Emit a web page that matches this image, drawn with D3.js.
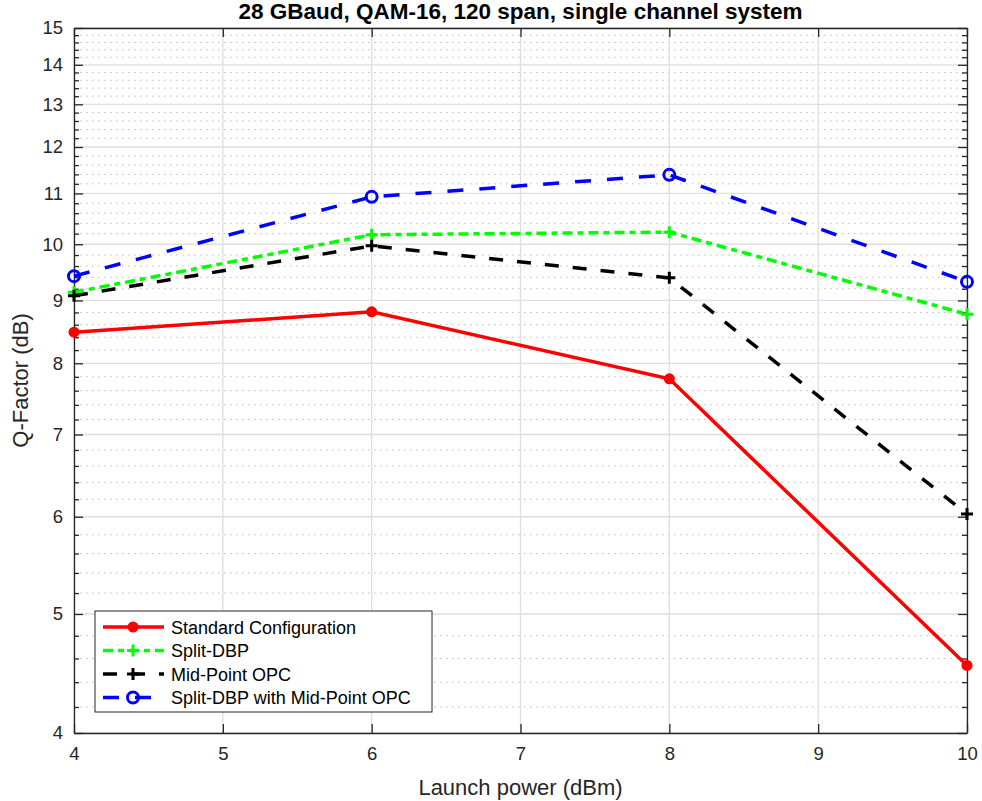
<!DOCTYPE html>
<html>
<head>
<meta charset="utf-8">
<script src="https://cdn.jsdelivr.net/npm/d3@7"></script>
<style>
  body { margin: 0; background: #fff; }
  svg { font-family: "Liberation Sans", Arial, Helvetica, sans-serif; }
</style>
</head>
<body>
<div id="chart"></div>
<script>
// data
const launchPower = [4, 6, 8, 10];
const standardCfg = [8.48, 8.81, 7.77, 4.54];
const splitDBP = [9.14, 10.18, 10.23, 8.77];
const midPointOPC = [9.08, 9.97, 9.39, 6.03];
const splitDBPwithOPC = [9.42, 10.93, 11.39, 9.32];
const xTicks = [4, 5, 6, 7, 8, 9, 10];
const yTicks = [4, 5, 6, 7, 8, 9, 10, 11, 12, 13, 14, 15];

const series = [
  { name: "Standard Configuration", values: standardCfg, color: "#ff0000", dash: null, marker: "dot" },
  { name: "Split-DBP", values: splitDBP, color: "#00ff00", dash: "10,5,6,5", marker: "plus" },
  { name: "Mid-Point OPC", values: midPointOPC, color: "#000000", dash: "14,14", marker: "plus" },
  { name: "Split-DBP with Mid-Point OPC", values: splitDBPwithOPC, color: "#0000ff", dash: "16,16", marker: "circle" }
];

const W = 982, H = 801;
const margin = { top: 28, right: 15, bottom: 68, left: 74 };
const width = W - margin.left - margin.right,
      height = H - margin.top - margin.bottom;

const svg = d3.select("#chart").append("svg")
  .attr("width", W)
  .attr("height", H);

const g = svg.append("g")
  .attr("transform", `translate(${margin.left},${margin.top})`);

const x = d3.scaleLinear().domain([4, 10]).range([0, width]);
const y = d3.scaleLog().domain([4, 15]).range([height, 0]);

// minor values every 0.2 on the log axis
const yMinor = d3.range(40, 151, 2).map(v => v / 10).filter(v => !yTicks.includes(v));

// minor grid
g.selectAll("line.minor")
  .data(yMinor)
  .enter().append("line")
  .attr("class", "minor")
  .attr("x1", 0).attr("x2", width)
  .attr("y1", d => y(d)).attr("y2", d => y(d))
  .attr("stroke", "#bcbcbc")
  .attr("stroke-width", 1)
  .attr("stroke-dasharray", "1.5,4.5");

// major grid
g.selectAll("line.hgrid")
  .data(yTicks)
  .enter().append("line")
  .attr("x1", 0).attr("x2", width)
  .attr("y1", d => y(d)).attr("y2", d => y(d))
  .attr("stroke", "#dedede").attr("stroke-width", 1.3);

g.selectAll("line.vgrid")
  .data(xTicks)
  .enter().append("line")
  .attr("x1", d => x(d)).attr("x2", d => x(d))
  .attr("y1", 0).attr("y2", height)
  .attr("stroke", "#dedede").attr("stroke-width", 1.3);

// axes with inward ticks
const axisColor = "#262626";
function styleAxis(sel) {
  sel.select(".domain").attr("stroke", axisColor).attr("stroke-width", 1.3);
  sel.selectAll(".tick line").attr("stroke", axisColor).attr("stroke-width", 1.3);
  sel.selectAll(".tick text").attr("fill", axisColor).attr("font-size", 18.5);
}

g.append("g")
  .attr("transform", `translate(0,${height})`)
  .call(d3.axisBottom(x).tickValues(xTicks).tickFormat(d3.format("d")).tickSizeInner(-9).tickSizeOuter(0).tickPadding(14))
  .call(styleAxis);

g.append("g")
  .call(d3.axisTop(x).tickValues(xTicks).tickFormat("").tickSizeInner(-9).tickSizeOuter(0))
  .call(styleAxis);

g.append("g")
  .call(d3.axisLeft(y).tickValues(yTicks).tickFormat(d3.format("d")).tickSizeInner(-9).tickSizeOuter(0).tickPadding(11))
  .call(styleAxis);

g.append("g")
  .attr("transform", `translate(${width},0)`)
  .call(d3.axisRight(y).tickValues(yTicks).tickFormat("").tickSizeInner(-9).tickSizeOuter(0))
  .call(styleAxis);

// minor ticks on left and right
g.append("g")
  .call(d3.axisLeft(y).tickValues(yMinor).tickFormat("").tickSizeInner(-5).tickSizeOuter(0))
  .call(styleAxis)
  .select(".domain").remove();
g.append("g")
  .attr("transform", `translate(${width},0)`)
  .call(d3.axisRight(y).tickValues(yMinor).tickFormat("").tickSizeInner(-5).tickSizeOuter(0))
  .call(styleAxis)
  .select(".domain").remove();

// lines
const line = d3.line()
  .x((d, i) => x(launchPower[i]))
  .y(d => y(d));

function drawMarker(sel, s, cx, cy) {
  if (s.marker === "dot") {
    sel.append("circle").attr("cx", cx).attr("cy", cy).attr("r", 5.5).attr("fill", s.color);
  } else if (s.marker === "circle") {
    sel.append("circle").attr("cx", cx).attr("cy", cy).attr("r", 5.5)
      .attr("fill", "none").attr("stroke", s.color).attr("stroke-width", 3);
  } else {
    sel.append("path")
      .attr("d", `M${cx - 6},${cy}H${cx + 6}M${cx},${cy - 6}V${cy + 6}`)
      .attr("stroke", s.color).attr("stroke-width", 3);
  }
}

series.forEach(s => {
  g.append("path")
    .datum(s.values)
    .attr("fill", "none")
    .attr("stroke", s.color)
    .attr("stroke-width", 3.5)
    .attr("stroke-dasharray", s.dash)
    .attr("d", line);
  const mg = g.append("g");
  s.values.forEach((v, i) => drawMarker(mg, s, x(launchPower[i]), y(v)));
});

// legend
const legend = g.append("g").attr("transform", `translate(${95 - margin.left},${611 - margin.top})`);
legend.append("rect")
  .attr("width", 337).attr("height", 101)
  .attr("fill", "#fff").attr("stroke", axisColor).attr("stroke-width", 1);
series.forEach((s, i) => {
  const ly = 16 + i * 23.5;
  legend.append("line")
    .attr("x1", 8).attr("x2", 69).attr("y1", ly).attr("y2", ly)
    .attr("stroke", s.color).attr("stroke-width", 3.5)
    .attr("stroke-dasharray", s.dash);
  drawMarker(legend, s, 38, ly);
  legend.append("text")
    .attr("x", 76).attr("y", ly + 6.5)
    .attr("font-size", 18).attr("fill", "#000")
    .text(s.name);
});

// title and labels
svg.append("text")
  .attr("x", margin.left + width / 2).attr("y", 19)
  .attr("text-anchor", "middle")
  .attr("font-size", 22.5).attr("font-weight", "bold")
  .text("28 GBaud, QAM-16, 120 span, single channel system");

svg.append("text")
  .attr("x", margin.left + width / 2).attr("y", 795)
  .attr("text-anchor", "middle")
  .attr("font-size", 22).attr("fill", axisColor)
  .text("Launch power (dBm)");

svg.append("text")
  .attr("transform", `translate(28,${margin.top + height / 2}) rotate(-90)`)
  .attr("text-anchor", "middle")
  .attr("font-size", 22).attr("fill", axisColor)
  .text("Q-Factor (dB)");
</script>
</body>
</html>
